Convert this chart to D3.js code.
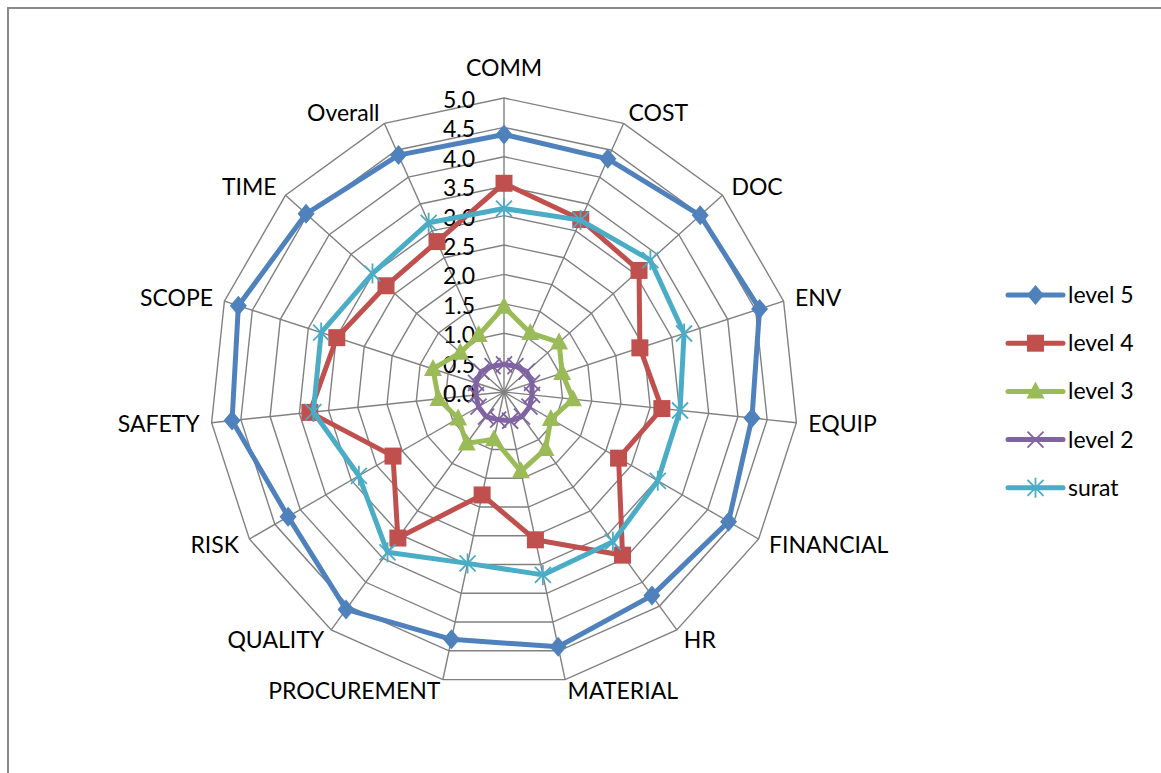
<!DOCTYPE html>
<html lang="en">
<head>
    <meta charset="utf-8">
    <script type="text/javascript" src="https://d3js.org/d3.v7.min.js"></script>
    <style>
        body { margin: 0; background: #fff; }
        text { font-family: Lato, "Liberation Sans", sans-serif; fill: #000; }
    </style>
</head>

<body>
    <script type="text/javascript">
        // Chart size
        let w = 1161;
        let h = 773;

        // Data
        let categories = ["COMM", "COST", "DOC", "ENV", "EQUIP", "FINANCIAL", "HR", "MATERIAL",
                          "PROCUREMENT", "QUALITY", "RISK", "SAFETY", "SCOPE", "TIME", "Overall"];
        let level5 = [4.38, 4.34, 4.49, 4.57, 4.24, 4.41, 4.28, 4.43, 4.30, 4.57, 4.24, 4.65, 4.75, 4.53, 4.41];
        let level4 = [3.55, 3.21, 3.09, 2.43, 2.70, 2.25, 3.43, 2.57, 1.79, 3.07, 2.18, 3.32, 2.99, 2.70, 2.80];
        let level3 = [1.45, 1.10, 1.26, 1.04, 1.18, 0.92, 1.20, 1.38, 0.82, 1.08, 0.90, 1.12, 1.27, 1.00, 1.06];
        let level2 = [0.47, 0.48, 0.52, 0.50, 0.48, 0.50, 0.52, 0.50, 0.48, 0.52, 0.50, 0.48, 0.50, 0.52, 0.48];
        let surat  = [3.12, 3.20, 3.35, 3.22, 3.01, 3.02, 3.15, 3.18, 2.98, 3.37, 2.85, 3.26, 3.27, 3.01, 3.15];
        let tickValues = [0, 0.5, 1, 1.5, 2, 2.5, 3, 3.5, 4, 4.5, 5];

        let seriesNames = ["level 5", "level 4", "level 3", "level 2", "surat"];
        let seriesValues = [level5, level4, level3, level2, surat];
        let colors = ["#4F81BD", "#C0504D", "#9BBB59", "#8064A2", "#4BACC6"];
        let markers = ["diamond", "square", "triangle", "cross", "star"];

        // Geometry
        let cx = 504, cy = 392, R = 294;
        let r = d3.scaleLinear().domain([0, 5]).range([0, R]);
        let angle = d3.scalePoint().domain(categories).range([0, 2 * Math.PI * (categories.length - 1) / categories.length]);

        let svg = d3.select("body").append("svg")
                    .attr("width", w)
                    .attr("height", h);

        // Outer frame
        svg.append("rect")
            .attr("x", 8).attr("y", 8)
            .attr("width", w + 20).attr("height", h + 20)
            .attr("fill", "none")
            .attr("stroke", "#898989")
            .attr("stroke-width", 2);

        let g = svg.append("g").attr("transform", `translate(${cx},${cy})`);

        let pt = (c, v) => [Math.sin(angle(c)) * r(v), -Math.cos(angle(c)) * r(v)];

        // Grid rings
        let ring = d3.lineRadial()
            .angle(c => angle(c))
            .curve(d3.curveLinearClosed);

        g.selectAll(".ring")
            .data(tickValues.slice(1))
            .join("path")
                .attr("class", "ring")
                .attr("d", v => ring.radius(r(v))(categories))
                .attr("fill", "none")
                .attr("stroke", "#808080")
                .attr("stroke-width", 1.4);

        // Spokes
        g.selectAll(".spoke")
            .data(categories)
            .join("line")
                .attr("class", "spoke")
                .attr("x1", 0).attr("y1", 0)
                .attr("x2", c => pt(c, 5)[0])
                .attr("y2", c => pt(c, 5)[1])
                .attr("stroke", "#808080")
                .attr("stroke-width", 1.4);

        // Category labels
        g.selectAll(".cat")
            .data(categories)
            .join("text")
                .attr("class", "cat")
                .attr("x", c => Math.sin(angle(c)) * (R + 12))
                .attr("y", c => {
                    let s = Math.sin(angle(c));
                    let extra = Math.abs(s) < 0.1 ? 18 : 0;
                    return -Math.cos(angle(c)) * (R + 12) - extra;
                })
                .attr("dy", "0.35em")
                .attr("text-anchor", c => {
                    let s = Math.sin(angle(c));
                    return Math.abs(s) < 0.1 ? "middle" : (s > 0 ? "start" : "end");
                })
                .attr("font-size", "23px")
                .text(c => c);

        // Tick labels
        g.selectAll(".tick")
            .data(tickValues)
            .join("text")
                .attr("class", "tick")
                .attr("x", -29)
                .attr("y", v => -r(v) + 2)
                .attr("dy", "0.35em")
                .attr("text-anchor", "end")
                .attr("font-size", "23px")
                .text(v => d3.format(".1f")(v));

        // Marker drawing
        function drawMarker(sel, type, color) {
            if (type === "diamond") {
                sel.append("path").attr("d", "M0,-10L8.5,0L0,10L-8.5,0Z").attr("fill", color);
            } else if (type === "square") {
                sel.append("rect").attr("x", -8.5).attr("y", -8.5).attr("width", 17).attr("height", 17).attr("fill", color);
            } else if (type === "triangle") {
                sel.append("path").attr("d", "M0,-10L9,7L-9,7Z").attr("fill", color);
            } else if (type === "cross") {
                sel.append("path").attr("d", "M-8,-8L8,8M8,-8L-8,8")
                    .attr("stroke", color).attr("stroke-width", 1.8).attr("fill", "none");
            } else if (type === "star") {
                sel.append("path").attr("d", "M-8,-8L8,8M8,-8L-8,8M0,-10L0,10")
                    .attr("stroke", color).attr("stroke-width", 1.8).attr("fill", "none");
            }
        }

        // Series
        let radar = d3.lineRadial()
            .angle((d, i) => angle(categories[i]))
            .radius(d => r(d))
            .curve(d3.curveLinearClosed);

        seriesValues.forEach((vals, k) => {
            let sg = g.append("g");
            sg.append("path")
                .attr("d", radar(vals))
                .attr("fill", "none")
                .attr("stroke", colors[k])
                .attr("stroke-width", 5)
                .attr("stroke-linejoin", "round");

            sg.selectAll(".m")
                .data(vals)
                .join("g")
                    .attr("transform", (d, i) => {
                        let p = pt(categories[i], d);
                        return `translate(${p[0]},${p[1]})`;
                    })
                    .each(function() { drawMarker(d3.select(this), markers[k], colors[k]); });
        });

        // Legend
        let legend = svg.append("g").attr("transform", "translate(1008,295)");
        seriesNames.forEach((name, k) => {
            let lg = legend.append("g").attr("transform", `translate(0,${k * 48.2})`);
            lg.append("line")
                .attr("x1", 0).attr("x2", 55)
                .attr("stroke", colors[k])
                .attr("stroke-width", 5)
                .attr("stroke-linecap", "round");
            let mk = lg.append("g").attr("transform", "translate(27.5,0)");
            drawMarker(mk, markers[k], colors[k]);
            lg.append("text")
                .attr("x", 60)
                .attr("dy", "0.35em")
                .attr("font-size", "23px")
                .text(name);
        });
    </script>
</body>
</html>
